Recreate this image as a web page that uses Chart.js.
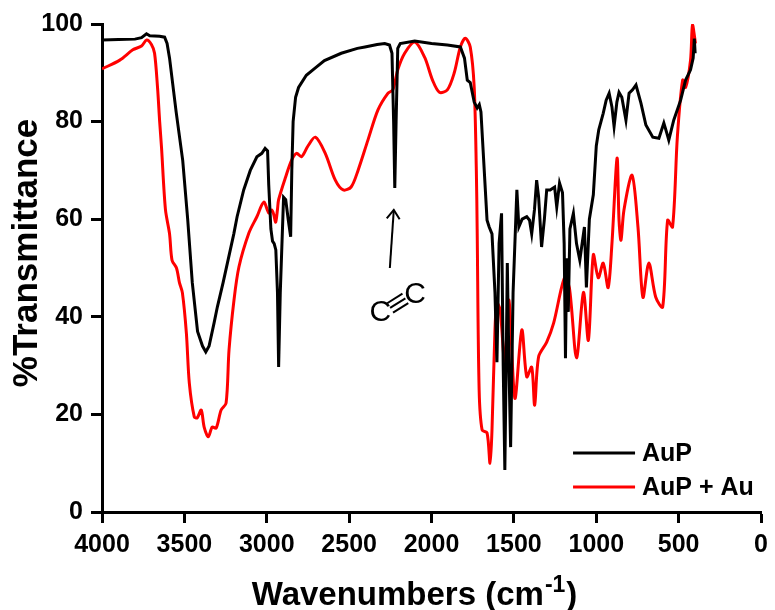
<!DOCTYPE html>
<html>
<head>
<meta charset="utf-8">
<script src="https://cdn.jsdelivr.net/npm/chart.js@4.4.1/dist/chart.umd.min.js"></script>
<style>
  html, body { margin: 0; padding: 0; background: #ffffff; }
  #wrap { width: 775px; height: 610px; }
</style>
</head>
<body>
<div id="wrap"><canvas id="c" width="775" height="610"></canvas></div>
<script>
// ---- Data ----
const seriesNames = ['AuP', 'AuP + Au'];

// AuP (black)
const aupWn = [4000,3900,3800,3760,3730,3710,3650,3620,3605,3590,3550,3510,3480,3452,3420,3390,3370,3350,3320,3300,3265,3200,3180,3140,3100,3060,3030,3010,2995,2988,2975,2965,2955,2945,2935,2928,2918,2898,2885,2870,2855,2848,2840,2825,2807,2760,2705,2650,2548,2450,2404,2330,2284,2255,2240,2230,2223,2215,2205,2190,2102,2000,1904,1825,1800,1783,1765,1741,1723,1710,1700,1663,1650,1633,1615,1603,1590,1575,1565,1555,1547,1540,1530,1520,1505,1482,1470,1450,1422,1405,1392,1375,1362,1350,1332,1315,1301,1280,1253,1240,1223,1205,1195,1187,1180,1170,1160,1139,1120,1100,1072,1060,1042,1018,1000,985,958,940,922,905,892,875,862,845,820,801,780,759,729,699,657,620,590,575,560,530,488,458,428,412,405,400];
const aupT  = [96.7,96.8,96.9,97.2,98.0,97.6,97.5,97.3,96.0,93,82,72,60,47,37,34,32.8,34,38.7,42,47,57,60.5,66,70,72.8,73.5,74.5,74,67,58,55.5,55,53.7,45,29.7,45,64.5,64,60,56.4,70,80,85,87,89.5,91,92.5,94,95,95.3,95.8,96,95.7,94,80,66.4,80,95,96,96.5,96,95.7,95.3,93,88.5,88,84,82.8,83.5,82,59.8,58.4,57,45,30.7,55,61.2,30,8.6,30,51,30,13.3,45,66,58.4,60,60.5,59.8,57,62,68,64.5,54.3,60,66,66,66.6,62.5,67.4,65.4,55,31.5,52,41,58,61.2,55,51.6,58.4,46,60,65,75,78.3,81.7,84.4,85.8,83,79,84,86,85,80.3,85.8,86.5,87.5,83.8,79.3,76.8,76.6,79.7,78,76.2,80.3,84.4,88.5,90.6,93,97,94];

// AuP + Au (red)
const aupAuWn = [4000,3892,3813,3760,3729,3700,3681,3663,3650,3639,3615,3590,3575,3548,3530,3512,3488,3470,3440,3422,3398,3380,3355,3331,3307,3277,3247,3229,3199,3169,3108,3060,3018,2988,2970,2958,2946,2935,2928,2886,2849,2819,2789,2750,2705,2645,2584,2536,2488,2446,2386,2325,2265,2235,2205,2163,2102,2042,1994,1952,1904,1862,1825,1795,1765,1741,1728,1723,1711,1693,1663,1645,1633,1615,1603,1584,1555,1530,1494,1452,1422,1392,1374,1350,1301,1259,1193,1163,1120,1078,1048,1018,988,958,928,905,874,862,850,832,783,747,717,681,639,597,567,537,508,476,458,428,416,398];
const aupAuT  = [90.8,92.6,94.7,95.5,96.7,95.8,94,87,80,74.8,62,57,51.6,50,47,44.9,36.7,26.4,19.5,19.3,20.9,17.4,15.4,17.4,17.2,20.9,22.3,33.2,43.4,50.2,57.2,60.5,63.5,61.3,61.9,61,59.4,62,64,68.6,72.1,73.5,72.8,75,76.8,73.5,68,66,66.6,70,76.2,82.4,85.8,86.5,90.6,94,96.3,93.2,88.5,86,86.5,90,95.3,97.1,95.3,87,70,58,25,16.8,16.2,10,16.8,37.3,42.8,41.5,30.5,43.4,23.3,37.3,27.7,29.7,21.9,31.8,34.8,38.7,48,45.9,31.6,45,35.2,52.7,48,51,46,55,72.5,59.8,55.7,61.9,69,58.4,44,51,44,42,59.8,58.4,76.8,88.5,87,92.6,99.8,96];

// Annotation (C≡C) anchor points in data units
const arrowFrom = { x: 2253, y: 50 };
const arrowTo   = { x: 2229, y: 61.9 };
const atomLeft  = { x: 2310, y: 40.8 };
const atomRight = { x: 2100, y: 44.6 };
const bondMid   = { x: 2205, y: 42.8 };

const xTitle = 'Wavenumbers (cm';
const xTitleSup = '-1';
const xTitleEnd = ')';
const yTitle = '%Transmittance';

// ---- build ----
function toPts(xs, ys) { return xs.map((x, i) => ({ x: x, y: ys[i] })); }

const FONT = "'Liberation Sans', Arial, Helvetica, sans-serif";

const overlay = {
  id: 'overlay',
  afterDraw(chart) {
    const ctx = chart.ctx;
    const ca = chart.chartArea;
    const xs = chart.scales.x, ys = chart.scales.y;
    ctx.save();
    ctx.fillStyle = '#000';
    ctx.strokeStyle = '#000';

    // X axis title with superscript
    ctx.font = 'bold 33px ' + FONT;
    const w1 = ctx.measureText(xTitle).width;
    const w3 = ctx.measureText(xTitleEnd).width;
    ctx.font = 'bold 23px ' + FONT;
    const w2 = ctx.measureText(xTitleSup).width;
    const total = w1 + w2 + w3 + 2;
    const cx = (ca.left + ca.right) / 2 - 17;
    let sx = cx - total / 2;
    const base = ca.bottom + 93;
    ctx.textAlign = 'left';
    ctx.textBaseline = 'alphabetic';
    ctx.font = 'bold 33px ' + FONT;
    ctx.fillText(xTitle, sx, base);
    ctx.font = 'bold 23px ' + FONT;
    ctx.fillText(xTitleSup, sx + w1 + 1, base - 13);
    ctx.font = 'bold 33px ' + FONT;
    ctx.fillText(xTitleEnd, sx + w1 + w2 + 2, base);

    // Y axis title
    ctx.save();
    ctx.translate(ca.left - 65, (ca.top + ca.bottom) / 2 - 15);
    ctx.rotate(-Math.PI / 2);
    ctx.font = 'bold 35px ' + FONT;
    ctx.textAlign = 'center';
    ctx.textBaseline = 'alphabetic';
    ctx.fillText(yTitle, 0, 0);
    ctx.restore();

    // Legend
    const lx0 = ca.right - 188, lx1 = ca.right - 126;
    const ly = [ca.bottom - 59, ca.bottom - 25];
    chart.data.datasets.forEach((ds, i) => {
      ctx.beginPath();
      ctx.lineWidth = 3;
      ctx.strokeStyle = ds.borderColor;
      ctx.moveTo(lx0, ly[i]);
      ctx.lineTo(lx1, ly[i]);
      ctx.stroke();
      ctx.fillStyle = '#000';
      ctx.font = 'bold 25px ' + FONT;
      ctx.textAlign = 'left';
      ctx.textBaseline = 'middle';
      ctx.fillText(ds.label, lx1 + 7, ly[i] + 1);
    });

    // Arrow
    const ax0 = xs.getPixelForValue(arrowFrom.x), ay0 = ys.getPixelForValue(arrowFrom.y);
    const ax1 = xs.getPixelForValue(arrowTo.x), ay1 = ys.getPixelForValue(arrowTo.y);
    ctx.strokeStyle = '#000';
    ctx.lineWidth = 2;
    ctx.beginPath();
    ctx.moveTo(ax0, ay0);
    ctx.lineTo(ax1, ay1);
    ctx.stroke();
    const ang = Math.atan2(ay1 - ay0, ax1 - ax0);
    const hl = 11, ha = Math.PI / 5;
    ctx.beginPath();
    ctx.moveTo(ax1 - hl * Math.cos(ang - ha), ay1 - hl * Math.sin(ang - ha));
    ctx.lineTo(ax1, ay1);
    ctx.lineTo(ax1 - hl * Math.cos(ang + ha), ay1 - hl * Math.sin(ang + ha));
    ctx.stroke();

    // C≡C label drawn as a structure: two C atoms and a slanted triple bond
    ctx.font = '30px ' + FONT;
    ctx.textAlign = 'center';
    ctx.textBaseline = 'middle';
    ctx.fillStyle = '#000';
    ctx.fillText('C', xs.getPixelForValue(atomLeft.x), ys.getPixelForValue(atomLeft.y));
    ctx.fillText('C', xs.getPixelForValue(atomRight.x), ys.getPixelForValue(atomRight.y));
    const bx = xs.getPixelForValue(bondMid.x), by = ys.getPixelForValue(bondMid.y);
    const ba = -32 * Math.PI / 180, bl = 9;
    const dx = Math.cos(ba), dy = Math.sin(ba);
    const px = -dy, py = dx;
    ctx.lineWidth = 2;
    [-5.5, 0, 5.5].forEach(o => {
      ctx.beginPath();
      ctx.moveTo(bx + o * px - bl * dx, by + o * py - bl * dy);
      ctx.lineTo(bx + o * px + bl * dx, by + o * py + bl * dy);
      ctx.stroke();
    });
    ctx.restore();
  }
};

const axisCommon = {
  grid: { display: true, drawOnChartArea: false, drawTicks: true, tickLength: 11, tickWidth: 3, tickColor: '#000' },
  border: { display: true, color: '#000', width: 3 },
};

new Chart(document.getElementById('c'), {
  type: 'line',
  data: {
    datasets: [
      { label: seriesNames[0], data: toPts(aupWn, aupT), borderColor: '#000000', borderWidth: 3, pointRadius: 0, tension: 0, order: 0 },
      { label: seriesNames[1], data: toPts(aupAuWn, aupAuT), borderColor: '#ff0000', borderWidth: 3, pointRadius: 0, tension: 0.3, order: 1 }
    ]
  },
  options: {
    responsive: false,
    devicePixelRatio: 1,
    animation: false,
    parsing: true,
    layout: { padding: { top: 24, right: 9, left: 0, bottom: 0 } },
    plugins: { legend: { display: false }, tooltip: { enabled: false }, title: { display: false } },
    scales: {
      x: Object.assign({}, axisCommon, {
        type: 'linear', min: 0, max: 4000, reverse: true,
        ticks: { stepSize: 500, color: '#000', padding: 7, maxRotation: 0, font: { family: FONT, size: 25, weight: 'bold' }, callback: v => String(v) },
        afterFit(s) { s.height = 98; }
      }),
      y: Object.assign({}, axisCommon, {
        type: 'linear', min: 0, max: 100,
        ticks: { stepSize: 20, color: '#000', padding: 8, font: { family: FONT, size: 25, weight: 'bold' }, callback: v => String(v) },
        afterFit(s) { s.width = 102; }
      })
    }
  },
  plugins: [overlay]
});
</script>
</body>
</html>
